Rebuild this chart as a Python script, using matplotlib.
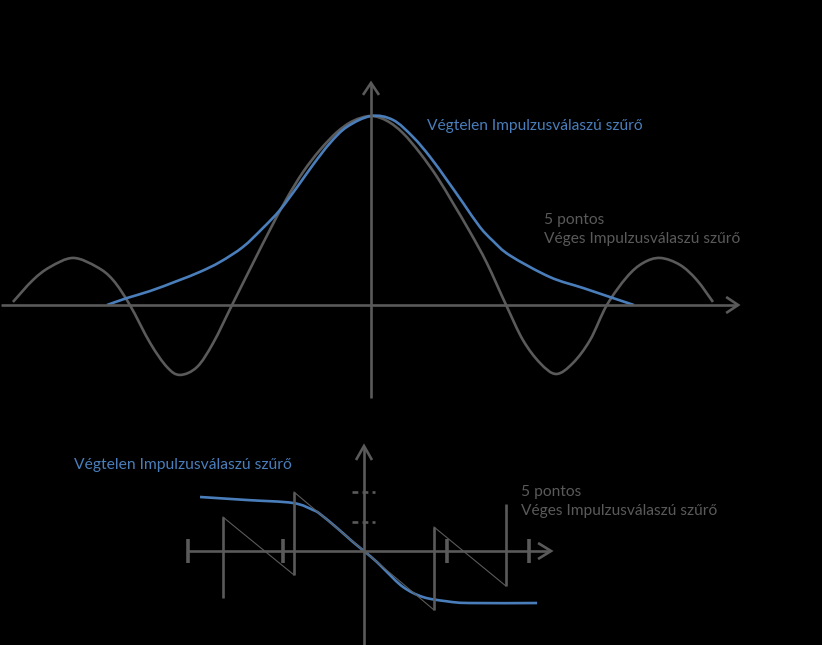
import matplotlib
matplotlib.use("Agg")
import matplotlib.pyplot as plt
from matplotlib.path import Path
from matplotlib.patches import PathPatch
import numpy as np

# ---------------- data ----------------
# Top chart: amplitude response, x = omega/pi, y = |H| (peak = 1)
fir_amp_x = [-1.023, -0.966, -0.917, -0.851, -0.783, -0.737, -0.689, -0.631, -0.583, -0.546,
             -0.497, -0.451, -0.397, -0.337, -0.289, -0.240, -0.194, -0.146, -0.097, -0.051,
             0.0, 0.046, 0.091, 0.140, 0.189, 0.234, 0.283, 0.331, 0.386, 0.434,
             0.483, 0.529, 0.577, 0.626, 0.674, 0.731, 0.777, 0.826, 0.883, 0.931, 0.977]
fir_amp_y = [0.016, 0.132, 0.201, 0.249, 0.201, 0.132, 0.0, -0.201, -0.328, -0.370,
             -0.328, -0.201, 0.0, 0.222, 0.397, 0.566, 0.704, 0.820, 0.915, 0.974,
             1.0, 0.974, 0.910, 0.804, 0.677, 0.540, 0.386, 0.222, 0.0, -0.185,
             -0.307, -0.365, -0.307, -0.185, 0.0, 0.148, 0.222, 0.249, 0.212, 0.132, 0.016]

iir_amp_x = [-0.754, -0.697, -0.631, -0.554, -0.489, -0.431, -0.366, -0.309, -0.260, -0.211,
             -0.166, -0.117, -0.069, 0.0, 0.063, 0.120, 0.169, 0.217, 0.263, 0.311,
             0.349, 0.397, 0.511, 0.606, 0.691, 0.751]
iir_amp_y = [0.0, 0.037, 0.074, 0.127, 0.175, 0.228, 0.307, 0.407, 0.503, 0.624,
             0.741, 0.857, 0.942, 1.0, 0.979, 0.889, 0.783, 0.661, 0.540, 0.413,
             0.338, 0.262, 0.148, 0.090, 0.037, 0.0]

# Bottom chart: phase response, x = omega/pi, y = phase/pi
fir_jump_x = [-0.806, -0.400, 0.400, 0.811]
fir_jump_lo = [-0.635, -0.324, -0.797, -0.473]
fir_jump_hi = [0.459, 0.797, 0.324, 0.635]
fir_seg_x0 = [-0.806, -0.400, 0.400]
fir_seg_y0 = [0.459, 0.797, 0.324]
fir_seg_x1 = [-0.400, 0.400, 0.811]
fir_seg_y1 = [-0.324, -0.797, -0.473]

iir_ph_x = [-0.937, -0.669, -0.406, -0.291, -0.251, -0.154, -0.063, 0.0, 0.074,
            0.120, 0.223, 0.337, 0.474, 0.600, 0.989]
iir_ph_y = [0.730, 0.689, 0.649, 0.554, 0.500, 0.311, 0.122, 0.0, -0.149,
            -0.257, -0.486, -0.622, -0.680, -0.703, -0.703]

phase_ticks_x = [-1.006, -0.463, 0.474, 0.943]
phase_ticks_y = [0.797, 0.392]

label_iir = "Végtelen Impulzusválaszú szűrő"
label_fir = "5 pontos\nVéges Impulzusválaszú szűrő"

# ---------------- style ----------------
GRAY = "#5a5a5a"
BLUE = "#4a7ebb"
W, H, DPI = 822, 645, 100
FONT = ["Lato", "DejaVu Sans"]

fig = plt.figure(figsize=(W / DPI, H / DPI), dpi=DPI, facecolor="black")

# top axes: 350 px per x unit, 189 px per y unit, origin at pixel (371, 305)
ax1 = fig.add_axes([0, 0, 1, 1])
ax1.set_xlim(-371 / 350, (W - 371) / 350)
ax1.set_ylim((305 - H) / 189, 305 / 189)
ax1.axis("off")
ax1.patch.set_alpha(0)

# bottom axes: 175 px per x unit, 74 px per y unit, origin at pixel (364, 551)
ax2 = fig.add_axes([0, 0, 1, 1])
ax2.set_xlim(-364 / 175, (W - 364) / 175)
ax2.set_ylim((551 - H) / 74, 551 / 74)
ax2.axis("off")
ax2.patch.set_alpha(0)


def smooth_line(ax, xs, ys, color, lw):
    """Draw a smoothed line (Catmull-Rom as cubic Bezier) through the data points."""
    p = np.column_stack([xs, ys]).astype(float)
    n = len(p)
    verts = [p[0]]
    codes = [Path.MOVETO]
    for i in range(n - 1):
        p0 = p[i - 1] if i > 0 else p[i]
        p1, p2 = p[i], p[i + 1]
        p3 = p[i + 2] if i + 2 < n else p[i + 1]
        c1 = p1 + (p2 - p0) / 6.0
        c2 = p2 - (p3 - p1) / 6.0
        verts += [c1, c2, p2]
        codes += [Path.CURVE4] * 3
    patch = PathPatch(Path(verts, codes), facecolor="none", edgecolor=color,
                      lw=lw, joinstyle="round", capstyle="butt")
    ax.add_patch(patch)


def chevron(ax, tip, direction, back=12, half=8, lw=1.9):
    """open arrow head at tip (data coords); sizes in pixels"""
    tx, ty = ax.transData.transform(tip)
    if direction == "up":
        pts = [(tx - half, ty - back), (tx, ty), (tx + half, ty - back)]
    else:
        pts = [(tx - back, ty + half), (tx, ty), (tx - back, ty - half)]
    inv = ax.transData.inverted()
    d = inv.transform(pts)
    ax.plot(d[:, 0], d[:, 1], color=GRAY, lw=lw, solid_joinstyle="miter",
            solid_capstyle="butt")


# ---- top chart ----
ax1.plot([-1.057, 1.045], [0, 0], color=GRAY, lw=1.9, solid_capstyle="butt")
ax1.plot([0, 0], [-0.492, 1.17], color=GRAY, lw=1.9, solid_capstyle="butt")
chevron(ax1, (1.049, 0), "right")
chevron(ax1, (0, 1.175), "up")
smooth_line(ax1, fir_amp_x, fir_amp_y, GRAY, 1.9)
smooth_line(ax1, iir_amp_x, iir_amp_y, BLUE, 1.9)

# ---- bottom chart ----
ax2.plot([-1.006, 1.06], [0, 0], color=GRAY, lw=1.9, solid_capstyle="butt")
ax2.plot([0, 0], [-1.27, 1.41], color=GRAY, lw=1.9, solid_capstyle="butt")
chevron(ax2, (1.069, 0), "right", back=13, half=8)
chevron(ax2, (0, 1.419), "up", back=14, half=8)
ax2.vlines(phase_ticks_x, -0.162, 0.162, color=GRAY, lw=2.6)
ax2.hlines(phase_ticks_y, -0.069, 0.063, color=GRAY, lw=1.9,
           linestyles=(0, (2.2, 1.6)))
ax2.vlines(fir_jump_x, fir_jump_lo, fir_jump_hi, color=GRAY, lw=1.9)
for x0, y0, x1, y1 in zip(fir_seg_x0, fir_seg_y0, fir_seg_x1, fir_seg_y1):
    ax2.plot([x0, x1], [y0, y1], color=GRAY, lw=0.8)
smooth_line(ax2, iir_ph_x, iir_ph_y, BLUE, 1.9)

# ---- labels ----
t1 = ax1.text((427 - 371) / 350, (305 - 130) / 189, label_iir, color=BLUE,
              family=FONT, fontsize=11, va="baseline", ha="left")
t2 = ax1.text((544 - 371) / 350, (305 - 243) / 189, label_fir, color=GRAY,
              family=FONT, fontsize=11, va="baseline", ha="left", linespacing=1.45)
t3 = ax2.text((74 - 364) / 175, (551 - 469) / 74, label_iir, color=BLUE,
              family=FONT, fontsize=11, va="baseline", ha="left")
t4 = ax2.text((521 - 364) / 175, (551 - 515) / 74, label_fir, color=GRAY,
              family=FONT, fontsize=11, va="baseline", ha="left", linespacing=1.45)

# fit font size to the reference widths
targets = [(t1, 216), (t2, 197), (t3, 217), (t4, 196)]
fig.canvas.draw()
r = fig.canvas.get_renderer()
for t, w in targets:
    cur = t.get_window_extent(r).width
    t.set_fontsize(t.get_fontsize() * w / cur)

fig.savefig("out.png", dpi=DPI, facecolor="black")
